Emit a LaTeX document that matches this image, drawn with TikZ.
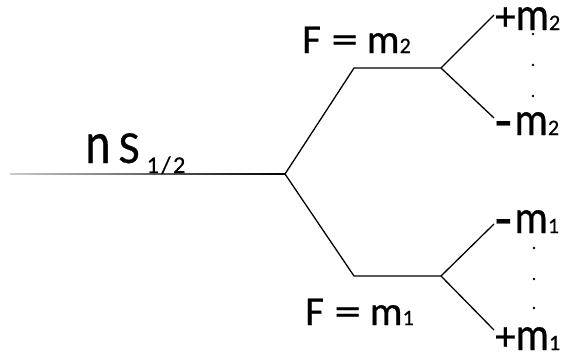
\documentclass[tikz,border=0pt]{standalone}
\usepackage{fontspec}
\setmainfont{Carlito}[FakeBold=0.6]
\newcommand{\bigf}{\fontsize{41}{41}\selectfont}
\newcommand{\subf}{\fontsize{22}{22}\selectfont}
\newcommand{\mm}{\scalebox{1.02}[1.15]{m}}
\newcommand{\eqsign}{\kern1pt\scalebox{1.3}[1]{=}\kern9pt}
\newcommand{\dashsign}{\scalebox{1.3}[1]{\textbf{-}}}
\begin{document}
\begin{tikzpicture}[x=1pt,y=-1pt,
  branch/.style={line width=1.3pt, black},
  lab/.style={anchor=base west, inner sep=0pt, font=\bigf},
  dot/.style={circle, fill=black, inner sep=0pt, minimum size=2.6pt}]
\useasboundingbox (0,0) rectangle (564,360);
% coordinates
\coordinate (start) at (10,174);
\coordinate (root) at (285,174);
\coordinate (u1) at (354,68);
\coordinate (u2) at (441,68);
\coordinate (ua) at (494,15);
\coordinate (ub) at (494,118);
\coordinate (l1) at (354,276);
\coordinate (l2) at (441,276);
\coordinate (la) at (494,224);
\coordinate (lb) at (494,330);
% incoming line with fade
\shade[left color=gray!40, right color=black] (10,173.35) rectangle (285,174.65);
% branches
\draw[branch, line join=miter] (root) -- (u1) -- (u2) -- (ua);
\draw[branch] (u2) -- (ub);
\draw[branch, line join=miter] (root) -- (l1) -- (l2) -- (la);
\draw[branch] (l2) -- (lb);
% labels
\node[lab, font=\fontsize{46}{46}\selectfont] (ns) at (85,163) {\scalebox{1.05}[1.3]{n}\kern8pt S\kern7pt\raisebox{-10pt}{\fontsize{24}{24}\selectfont 1\kern2.5pt/\kern2.5pt2}};
\node[lab] (fu) at (302,53) {F \eqsign m{\subf 2}};
\node[lab] (fl) at (305,325) {F \eqsign m{\subf 1}};
\node[lab] (pu) at (495,30) {+\mm{\subf 2}};
\node[lab] (mu) at (495,135) {\dashsign\kern3pt\mm{\subf 2}};
\node[lab] (ml) at (495,233) {\dashsign\kern3pt\mm{\subf 1}};
\node[lab] (pl) at (495,350) {+\mm{\subf 1}};
% dots
\node[dot] (du1) at (533,34) {};
\node[dot] (du2) at (533,65) {};
\node[dot] (du3) at (533,96) {};
\node[dot] (dl1) at (534,248) {};
\node[dot] (dl2) at (534,279) {};
\node[dot] (dl3) at (534,308) {};
\end{tikzpicture}
\end{document}
